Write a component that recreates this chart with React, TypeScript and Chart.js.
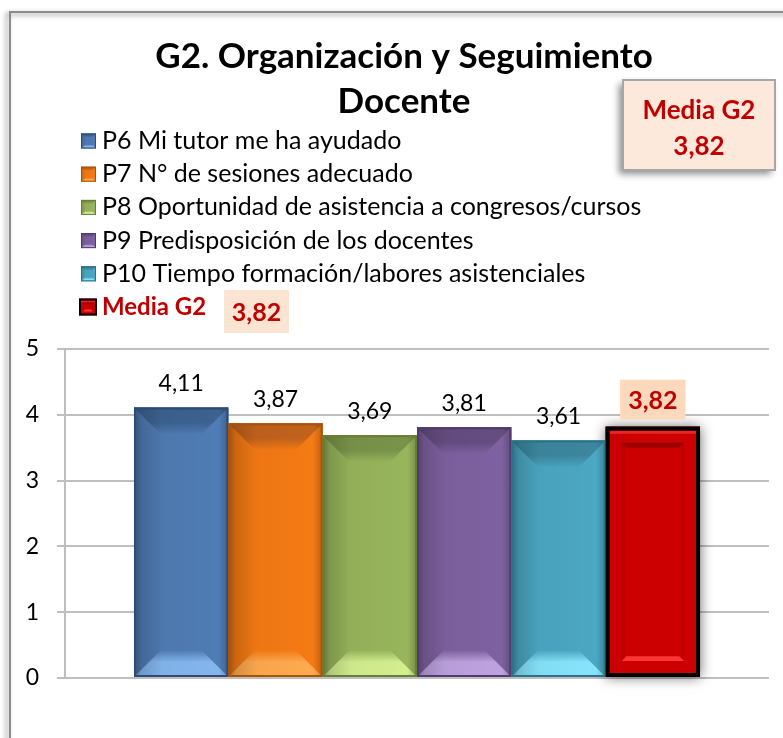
import React, { useEffect, useRef } from "react";
import { Chart, registerables } from "chart.js";

Chart.register(...registerables);

// ---------- DATA ----------
const categories = ["G2"];
const titleLines = ["G2. Organización y Seguimiento", "Docente"];
const seriesLabels = [
  "P6 Mi tutor me ha ayudado",
  "P7 N° de sesiones adecuado",
  "P8 Oportunidad de asistencia a congresos/cursos",
  "P9 Predisposición de los docentes",
  "P10 Tiempo formación/labores asistenciales",
  "Media G2",
];
const seriesValues = [4.11, 3.87, 3.69, 3.81, 3.61, 3.82];
const yTickValues = [0, 1, 2, 3, 4, 5];
const mediaLabel = "Media G2";
const mediaValue = 3.82;

// ---------- STYLES ----------
const FONT = "Lato, 'Open Sans', sans-serif";
const RED_TEXT = "#C00000";
const PEACH = "#FCD9BC";
const barStyles = [
  { base: "#4F7CB4", dark: "#3D6290", light: "#84B6EE", border: "#2E4B74" },
  { base: "#F47A14", dark: "#C2621C", light: "#FFAA4E", border: "#A8530C" },
  { base: "#97B55B", dark: "#7A934A", light: "#D4EE8E", border: "#657F35" },
  { base: "#7E61A0", dark: "#654D80", light: "#BDA2DF", border: "#4F3C6C" },
  { base: "#4BA7C3", dark: "#3C879E", light: "#86E4FA", border: "#2B7188" },
  { base: "#CC0000", dark: "#A00000", light: "#FF3030", border: "#000000" },
];

const fmt = (v: number) => v.toFixed(2).replace(".", ",");

function drawBevel(ctx: CanvasRenderingContext2D, x0: number, y0: number, x1: number, y1: number, s: any, bevel: number, borderW: number) {
  const w = x1 - x0;
  const h = y1 - y0;
  ctx.save();
  ctx.fillStyle = s.base;
  ctx.fillRect(x0, y0, w, h);
  const b = Math.min(bevel, w / 3, h / 3);
  // top bevel
  const gt = ctx.createLinearGradient(0, y0, 0, y0 + b);
  gt.addColorStop(0, s.dark);
  gt.addColorStop(0.55, s.dark);
  gt.addColorStop(1, s.base);
  ctx.fillStyle = gt;
  ctx.beginPath();
  ctx.moveTo(x0, y0);
  ctx.lineTo(x1, y0);
  ctx.lineTo(x1 - b, y0 + b);
  ctx.lineTo(x0 + b, y0 + b);
  ctx.closePath();
  ctx.fill();
  // bottom bevel
  const gb = ctx.createLinearGradient(0, y1 - b, 0, y1);
  gb.addColorStop(0, s.base);
  gb.addColorStop(0.45, s.light);
  gb.addColorStop(1, s.light);
  ctx.fillStyle = gb;
  ctx.beginPath();
  ctx.moveTo(x0, y1);
  ctx.lineTo(x1, y1);
  ctx.lineTo(x1 - b, y1 - b);
  ctx.lineTo(x0 + b, y1 - b);
  ctx.closePath();
  ctx.fill();
  // horizontal shading over everything
  const g = ctx.createLinearGradient(x0, 0, x1, 0);
  g.addColorStop(0, "rgba(0,0,0,0.34)");
  g.addColorStop(0.08, "rgba(0,0,0,0.16)");
  g.addColorStop(0.3, "rgba(0,0,0,0.03)");
  g.addColorStop(0.9, "rgba(0,0,0,0.0)");
  g.addColorStop(1, "rgba(0,0,0,0.22)");
  ctx.fillStyle = g;
  ctx.fillRect(x0, y0, w, h);
  // border
  ctx.strokeStyle = s.border;
  ctx.lineWidth = borderW;
  ctx.strokeRect(x0 + borderW / 2, y0 + borderW / 2, w - borderW, h - borderW);
  ctx.restore();
}

function drawRedBar(ctx: CanvasRenderingContext2D, x0: number, y0: number, x1: number, y1: number, s: any, inset: number, bw: number) {
  const w = x1 - x0;
  const h = y1 - y0;
  ctx.save();
  ctx.fillStyle = s.base;
  ctx.fillRect(x0, y0, w, h);
  // inner panel: dark top edge with diagonal corners, light bottom edge
  const e = Math.max(2, inset * 0.3);
  ctx.fillStyle = "rgba(110,0,0,0.55)";
  ctx.beginPath();
  ctx.moveTo(x0 + inset, y0 + inset);
  ctx.lineTo(x1 - inset, y0 + inset);
  ctx.lineTo(x1 - inset - e, y0 + inset + e);
  ctx.lineTo(x0 + inset + e, y0 + inset + e);
  ctx.closePath();
  ctx.fill();
  ctx.fillStyle = "rgba(120,0,0,0.22)";
  ctx.fillRect(x0 + inset, y0 + inset, e * 0.6, h - 2 * inset);
  ctx.fillRect(x1 - inset - e * 0.6, y0 + inset, e * 0.6, h - 2 * inset);
  ctx.fillStyle = "rgba(255,60,60,0.9)";
  ctx.beginPath();
  ctx.moveTo(x0 + inset, y1 - inset);
  ctx.lineTo(x1 - inset, y1 - inset);
  ctx.lineTo(x1 - inset - e, y1 - inset - e);
  ctx.lineTo(x0 + inset + e, y1 - inset - e);
  ctx.closePath();
  ctx.fill();
  // outer highlight just inside the black frame
  ctx.fillStyle = "rgba(255,70,70,0.55)";
  ctx.fillRect(x0 + bw, y0 + bw, w - 2 * bw, Math.max(1, bw * 0.8));
  ctx.strokeStyle = "#000";
  ctx.lineWidth = bw;
  ctx.strokeRect(x0 + bw / 2, y0 + bw / 2, w - bw, h - bw);
  ctx.restore();
}

const decorPlugin = {
  id: "decor",
  beforeDraw(chart: any) {
    const ctx = chart.ctx as CanvasRenderingContext2D;
    ctx.save();
    ctx.fillStyle = "#fff";
    ctx.fillRect(0, 0, chart.width, chart.height);
    // outer frame (continues beyond the visible area)
    ctx.shadowColor = "rgba(0,0,0,0.45)";
    ctx.shadowBlur = 5;
    ctx.shadowOffsetX = -3;
    ctx.shadowOffsetY = 2;
    ctx.strokeStyle = "#8C8C8C";
    ctx.lineWidth = 2;
    ctx.strokeRect(10, 12, chart.width + 40, chart.height + 40);
    ctx.restore();
  },
  beforeDatasetsDraw(chart: any) {
    const ctx = chart.ctx as CanvasRenderingContext2D;
    const last = chart.data.datasets.length - 1;
    const el = chart.getDatasetMeta(last).data[0];
    if (!el) return;
    const x0 = el.x - el.width / 2;
    ctx.save();
    ctx.shadowColor = "rgba(0,0,0,0.6)";
    ctx.shadowBlur = 12;
    ctx.fillStyle = "#000";
    ctx.fillRect(x0, el.y, el.width, el.base - el.y);
    ctx.restore();
  },
  afterDatasetsDraw(chart: any) {
    const ctx = chart.ctx as CanvasRenderingContext2D;
    const n = chart.data.datasets.length;
    chart.data.datasets.forEach((ds: any, i: number) => {
      const el = chart.getDatasetMeta(i).data[0];
      if (!el) return;
      const x0 = el.x - el.width / 2;
      const x1 = el.x + el.width / 2;
      if (i === n - 1) drawRedBar(ctx, x0, el.y, x1, el.base, barStyles[i], 16, 4);
      else drawBevel(ctx, x0, el.y, x1, el.base, barStyles[i], 27, 2);
      // value labels
      const txt = fmt(ds.data[0]);
      ctx.save();
      ctx.textAlign = "center";
      ctx.textBaseline = "middle";
      if (i === n - 1) {
        ctx.font = `bold 25px ${FONT}`;
        const tw = ctx.measureText(txt).width;
        const bw = Math.max(63, tw + 16);
        ctx.fillStyle = PEACH;
        ctx.fillRect(el.x - bw / 2, el.y - 47, bw, 40);
        ctx.fillStyle = RED_TEXT;
        ctx.fillText(txt, el.x, el.y - 26);
      } else {
        ctx.font = `23px ${FONT}`;
        ctx.fillStyle = "#000";
        ctx.fillText(txt, el.x, el.y - 24);
      }
      ctx.restore();
    });
  },
  afterDraw(chart: any) {
    const ctx = chart.ctx as CanvasRenderingContext2D;
    ctx.save();
    // title
    ctx.fillStyle = "#000";
    ctx.textAlign = "center";
    ctx.textBaseline = "alphabetic";
    ctx.font = `bold 35px ${FONT}`;
    ctx.fillText(titleLines[0], 404, 68);
    ctx.fillText(titleLines[1], 404, 113);

    // legend
    const n = chart.data.datasets.length;
    chart.data.datasets.forEach((ds: any, i: number) => {
      const base = 149 + i * 33.2;
      const cy = base - 8;
      if (i === n - 1) {
        drawRedBar(ctx, 79, cy - 8.5, 97, cy + 8.5, barStyles[i], 4, 2);
        ctx.font = `bold 24px ${FONT}`;
        ctx.fillStyle = RED_TEXT;
      } else {
        drawBevel(ctx, 81, cy - 7.5, 96, cy + 7.5, barStyles[i], 4, 1);
        ctx.font = `25px ${FONT}`;
        ctx.fillStyle = "#000";
      }
      ctx.textAlign = "left";
      ctx.textBaseline = "alphabetic";
      ctx.fillText(ds.label, 102, base);
    });
    // legend value box
    ctx.fillStyle = "#FCE4D2";
    ctx.fillRect(224, 290, 65, 43);
    ctx.fillStyle = RED_TEXT;
    ctx.font = `bold 25px ${FONT}`;
    ctx.textAlign = "center";
    ctx.textBaseline = "middle";
    ctx.fillText(fmt(mediaValue), 256.5, 313);

    // top-right box
    ctx.save();
    ctx.shadowColor = "rgba(0,0,0,0.45)";
    ctx.shadowBlur = 7;
    ctx.shadowOffsetX = -4;
    ctx.shadowOffsetY = 4;
    ctx.fillStyle = "#FDE9DC";
    ctx.fillRect(623, 80, 152, 90);
    ctx.restore();
    ctx.strokeStyle = "#A6A6A6";
    ctx.lineWidth = 2;
    ctx.strokeRect(623, 80, 152, 90);
    ctx.fillStyle = RED_TEXT;
    ctx.font = `bold 26px ${FONT}`;
    ctx.textAlign = "center";
    ctx.textBaseline = "alphabetic";
    ctx.fillText(mediaLabel, 699, 119);
    ctx.fillText(fmt(mediaValue), 699, 155);
    ctx.restore();
  },
};

export default function App() {
  const ref = useRef<HTMLCanvasElement | null>(null);
  useEffect(() => {
    if (!ref.current) return;
    const chart = new Chart(ref.current, {
      type: "bar",
      data: {
        labels: categories,
        datasets: seriesLabels.map((label, i) => ({
          label,
          data: [seriesValues[i]],
          backgroundColor: barStyles[i].base,
          borderWidth: 0,
          categoryPercentage: 0.804,
          barPercentage: 1.0,
        })),
      },
      options: {
        responsive: false,
        animation: false,
        devicePixelRatio: 1,
        layout: { padding: { left: 0, right: 14, top: 349, bottom: 60 } },
        plugins: {
          legend: { display: false },
          tooltip: { enabled: false },
          title: { display: false },
        },
        scales: {
          x: { display: false },
          y: {
            min: 0,
            max: 5,
            afterBuildTicks: (s: any) => {
              s.ticks = yTickValues.map((v) => ({ value: v }));
            },
            afterFit: (s: any) => {
              s.width = 65;
            },
            ticks: {
              color: "#000",
              padding: 18,
              font: { family: FONT, size: 23 },
              callback: (v: any) => String(v),
            },
            grid: { color: "#BFBFBF", lineWidth: 2, tickLength: 8, drawTicks: true },
            border: { color: "#BFBFBF", width: 2 },
          },
        },
      },
      plugins: [decorPlugin],
    } as any);
    return () => chart.destroy();
  }, []);
  return (
    <div style={{ position: "fixed", left: 0, top: 0, width: 783, height: 738, background: "#fff" }}>
      <canvas ref={ref} width={783} height={738} style={{ display: "block" }} />
    </div>
  );
}
